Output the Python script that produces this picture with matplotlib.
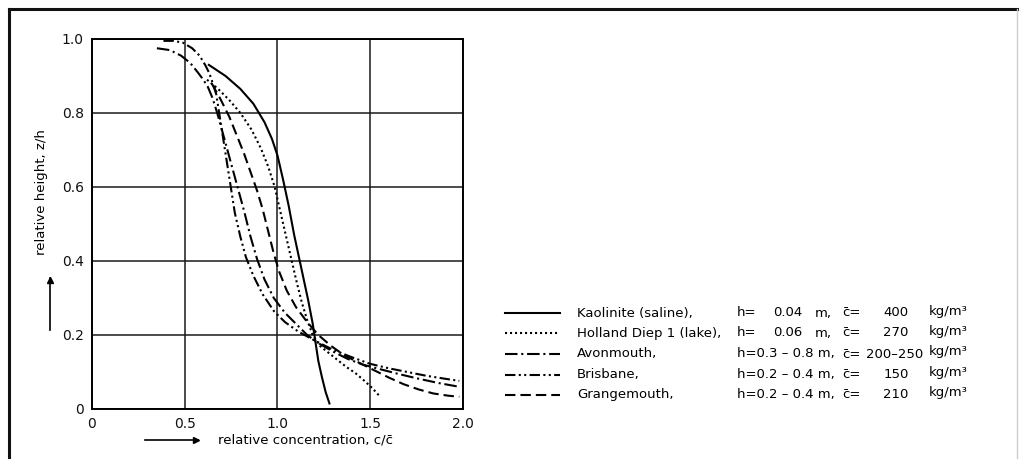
import matplotlib
matplotlib.use("Agg")
import matplotlib.pyplot as plt
from matplotlib.lines import Line2D

# relative concentration c/c_mean (x) vs relative height z/h (y)
kao_x = [0.63, 0.72, 0.80, 0.87, 0.93, 0.97, 1.00, 1.03, 1.06, 1.09, 1.12, 1.15,
         1.165, 1.19, 1.205, 1.22, 1.24, 1.26, 1.28]
kao_y = [0.93, 0.90, 0.865, 0.825, 0.775, 0.73, 0.685, 0.62, 0.55, 0.47, 0.40, 0.33,
         0.295, 0.23, 0.18, 0.13, 0.085, 0.045, 0.015]

hol_x = [0.62, 0.68, 0.74, 0.80, 0.86, 0.91, 0.95, 0.985, 1.01, 1.04, 1.07, 1.10,
         1.13, 1.16, 1.19, 1.23, 1.28, 1.33, 1.37, 1.42, 1.46, 1.51, 1.55]
hol_y = [0.89, 0.865, 0.835, 0.80, 0.755, 0.705, 0.655, 0.60, 0.545, 0.48, 0.415, 0.35,
         0.29, 0.24, 0.20, 0.17, 0.15, 0.13, 0.114, 0.097, 0.08, 0.057, 0.035]

avo_x = [0.35, 0.42, 0.48, 0.53, 0.57, 0.60, 0.625, 0.65, 0.675, 0.70, 0.73, 0.76,
         0.79, 0.82, 0.855, 0.89, 0.93, 0.98, 1.04, 1.10, 1.16, 1.22, 1.30, 1.38,
         1.46, 1.55, 1.65, 1.75, 1.87, 1.98]
avo_y = [0.975, 0.97, 0.955, 0.935, 0.91, 0.89, 0.87, 0.84, 0.80, 0.755, 0.70, 0.645,
         0.59, 0.535, 0.465, 0.405, 0.35, 0.30, 0.26, 0.23, 0.20, 0.178, 0.155, 0.135,
         0.12, 0.108, 0.095, 0.083, 0.07, 0.06]

bri_x = [0.385, 0.44, 0.49, 0.54, 0.58, 0.61, 0.63, 0.645, 0.67, 0.695, 0.72, 0.745,
         0.77, 0.80, 0.83, 0.87, 0.92, 0.98, 1.04, 1.11, 1.20, 1.30, 1.40, 1.50,
         1.60, 1.70, 1.80, 1.90, 1.98]
bri_y = [0.995, 0.995, 0.99, 0.975, 0.955, 0.93, 0.91, 0.89, 0.85, 0.77, 0.69, 0.61,
         0.53, 0.465, 0.41, 0.36, 0.31, 0.265, 0.235, 0.21, 0.185, 0.16, 0.14, 0.122,
         0.11, 0.10, 0.09, 0.082, 0.076]

gra_x = [0.645, 0.69, 0.74, 0.78, 0.82, 0.855, 0.89, 0.92, 0.95, 0.98, 1.01, 1.05,
         1.10, 1.16, 1.22, 1.29, 1.36, 1.44, 1.52, 1.60, 1.68, 1.76, 1.84, 1.92, 1.98]
gra_y = [0.88, 0.84, 0.79, 0.74, 0.69, 0.64, 0.59, 0.54, 0.48, 0.42, 0.37, 0.32,
         0.275, 0.235, 0.20, 0.17, 0.145, 0.125, 0.105, 0.085, 0.067, 0.053, 0.042,
         0.036, 0.033]

names = ["Kaolinite (saline),", "Holland Diep 1 (lake),", "Avonmouth,",
         "Brisbane,", "Grangemouth,"]
h_vals = ["0.04", "0.06", "0.3 – 0.8", "0.2 – 0.4", "0.2 – 0.4"]
c_vals = ["400", "270", "200–250", "150", "210"]

styles = ["-", (0, (1.0, 1.4)), (0, (6, 1.8, 1.0, 1.8)),
          (0, (5, 1.6, 1.0, 1.6, 1.0, 1.6)), (0, (5, 2.4))]
series = [(kao_x, kao_y), (hol_x, hol_y), (avo_x, avo_y), (bri_x, bri_y), (gra_x, gra_y)]

W, H = 1020, 459
LW = 1.5
plt.rcParams["font.family"] = "DejaVu Sans"
fig = plt.figure(figsize=(W / 100, H / 100), dpi=100)


def px(x, y):
    # pixel position (from top-left) -> figure fraction
    return x / W, 1 - y / H


ax = fig.add_axes([92 / W, 1 - 409 / H, 371 / W, 370 / H])
for (xs, ys), ls in zip(series, styles):
    ax.plot(xs, ys, color="black", lw=LW, linestyle=ls)

ax.set_xlim(0, 2.0)
ax.set_ylim(0, 1.0)
ax.set_xticks([0, 0.5, 1.0, 1.5, 2.0])
ax.set_xticklabels(["0", "0.5", "1.0", "1.5", "2.0"])
ax.set_yticks([0, 0.2, 0.4, 0.6, 0.8, 1.0])
ax.set_yticklabels(["0", "0.2", "0.4", "0.6", "0.8", "1.0"])
ax.tick_params(length=0, labelsize=10, pad=6, labelcolor="#111111")
ax.grid(True, color="#1a1a1a", lw=1.1)
for s in ax.spines.values():
    s.set_linewidth(1.4)

# axis labels with arrows
fig.text(*px(42, 192), "relative height, z/h", rotation=90, fontsize=9.5,
         ha="center", va="center")
fig.add_artist(Line2D([50 / W, 50 / W], [1 - 330 / H, 1 - 278 / H],
                      transform=fig.transFigure, color="black", lw=1.2))
fig.add_artist(Line2D([50 / W], [1 - 280 / H], transform=fig.transFigure,
                      marker="^", color="black", markersize=5))
fig.text(*px(218, 440), "relative concentration, c/c\u0304", fontsize=9.5,
         ha="left", va="center")
fig.add_artist(Line2D([145 / W, 198 / W], [1 - 440 / H, 1 - 440 / H],
                      transform=fig.transFigure, color="black", lw=1.2))
fig.add_artist(Line2D([196 / W], [1 - 440 / H], transform=fig.transFigure,
                      marker=">", color="black", markersize=5))

# legend block
row_y = [313, 333, 354, 374.5, 394.5]
fs = 9.5
for i, y in enumerate(row_y):
    fig.add_artist(Line2D([505 / W, 560 / W], [1 - y / H, 1 - y / H],
                          transform=fig.transFigure, color="black", lw=LW,
                          linestyle=styles[i]))
    fig.text(*px(577, y), names[i], fontsize=fs, va="center")
    if i < 2:
        fig.text(*px(737, y), "h=", fontsize=fs, va="center")
        fig.text(*px(788, y), h_vals[i], fontsize=fs, va="center", ha="center")
        fig.text(*px(815, y), "m,", fontsize=fs, va="center")
    else:
        fig.text(*px(737, y), "h=" + h_vals[i] + " m,", fontsize=fs, va="center")
    fig.text(*px(842, y), "c\u0304=", fontsize=fs, va="center")
    if len(c_vals[i]) > 3:
        fig.text(*px(866, y), c_vals[i], fontsize=fs, va="center")
    else:
        fig.text(*px(896, y), c_vals[i], fontsize=fs, va="center", ha="center")
    fig.text(*px(929, y - 2), "kg/m³", fontsize=fs, va="center")

# outer frame
fig.add_artist(Line2D([9 / W, 1], [1 - 9 / H, 1 - 9 / H], transform=fig.transFigure,
                      color="#111111", lw=2.2))
fig.add_artist(Line2D([9 / W, 9 / W], [0, 1 - 9 / H], transform=fig.transFigure,
                      color="#111111", lw=2.2))
fig.add_artist(Line2D([1017 / W, 1017 / W], [0, 1 - 9 / H], transform=fig.transFigure,
                      color="#cccccc", lw=1))

fig.savefig("out.png", dpi=100)
